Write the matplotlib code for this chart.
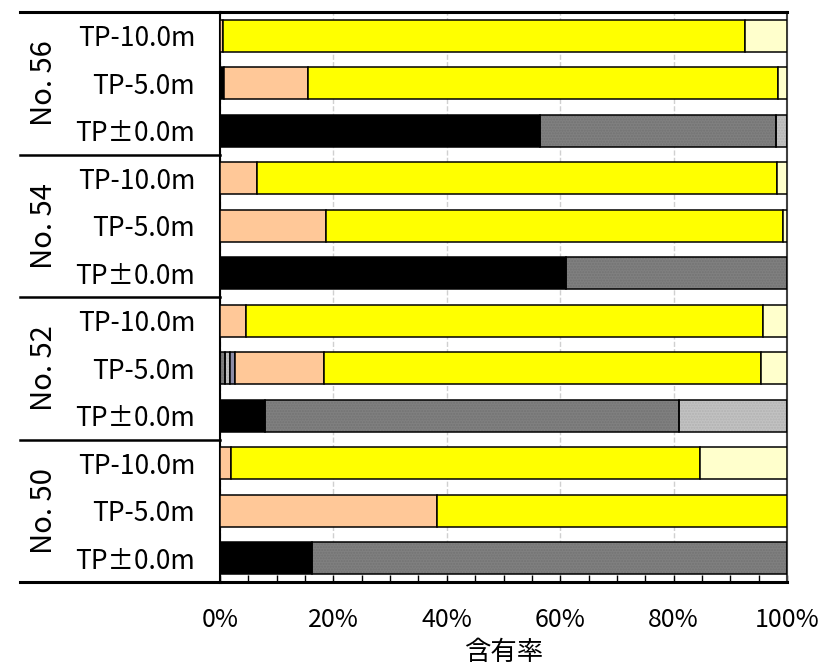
import matplotlib
matplotlib.use('Agg')
import matplotlib.pyplot as plt
import numpy as np

# rows top to bottom
groups = ['No. 56', 'No. 54', 'No. 52', 'No. 50']
depths = ['TP-10.0m', 'TP-5.0m', 'TP±0.0m']

# component shares (%) per row, left to right in the stack
black    = [0.0, 0.7, 56.4, 0.0, 0.0, 61.0, 0.0, 0.0, 7.9, 0.0, 0.0, 16.2]
gray     = [0.0, 0.0, 41.6, 0.0, 0.0, 39.0, 0.0, 0.8, 73.1, 0.0, 0.0, 83.8]
ltgray   = [0.0, 0.0, 2.0, 0.0, 0.0, 0.0, 0.0, 0.9, 19.0, 0.0, 0.0, 0.0]
purple   = [0.0, 0.0, 0.0, 0.0, 0.0, 0.0, 0.0, 0.9, 0.0, 0.0, 0.0, 0.0]
orange   = [0.5, 14.8, 0.0, 6.5, 18.7, 0.0, 4.6, 15.7, 0.0, 2.0, 38.3, 0.0]
yellow   = [92.1, 82.9, 0.0, 91.7, 80.6, 0.0, 91.2, 77.1, 0.0, 82.7, 61.7, 0.0]
ltyellow = [7.4, 1.6, 0.0, 1.8, 0.7, 0.0, 4.2, 4.6, 0.0, 15.3, 0.0, 0.0]

series = [
    (black,    '#000000', None),
    (gray,     '#808080', '#737373'),
    (ltgray,   '#c2c2c2', '#b2b2b2'),
    (purple,   '#8c8ca8', None),
    (orange,   '#ffc898', None),
    (yellow,   '#ffff00', None),
    (ltyellow, '#ffffcc', None),
]

fam = ['Noto Sans CJK JP', 'DejaVu Sans']

fig = plt.figure(figsize=(8.18, 6.64), dpi=100)
ax = fig.add_axes([220/818, 82/664, 567/818, 570/664])

nrow = len(black)
y = np.arange(nrow)
left = np.zeros(nrow)
bh = 0.68
for vals, col, dotcol in series:
    vals = np.array(vals)
    for i in range(nrow):
        if vals[i] <= 0:
            continue
        if dotcol:
            ax.barh(y[i], vals[i], left=left[i], height=bh, color=col,
                    edgecolor=dotcol, hatch='......', linewidth=0, zorder=2)
            ax.barh(y[i], vals[i], left=left[i], height=bh, fill=False,
                    edgecolor='black', linewidth=1.1, zorder=3)
        else:
            ax.barh(y[i], vals[i], left=left[i], height=bh, color=col,
                    edgecolor='black', linewidth=1.1, zorder=3)
    left += vals

ax.set_xlim(0, 100)
ax.set_ylim(nrow - 0.5, -0.5)
ax.set_xticks(np.arange(0, 101, 20))
ax.set_xticks(np.arange(0, 101, 5), minor=True)
ax.set_xticklabels(['%d%%' % v for v in range(0, 101, 20)], family=fam, fontsize=18)
ax.tick_params(axis='x', which='both', direction='in', length=5, width=1, pad=18, top=False)
ax.set_yticks(y)
ax.set_yticklabels(depths * len(groups), family=fam, fontsize=19)
ax.tick_params(axis='y', length=0, pad=18)
ax.grid(axis='x', which='major', color='#d0d0d0', linestyle='--', linewidth=1, zorder=0)
ax.set_axisbelow(True)
ax.set_xlabel('含有率', family=fam, fontsize=19, labelpad=4)

for s in ['top', 'bottom']:
    ax.spines[s].set_linewidth(2.2)
ax.spines['left'].set_linewidth(1.5)
ax.spines['right'].set_linewidth(1.5)
ax.spines['right'].set_color('#404040')

# left table lines
tr = ax.get_yaxis_transform()
x0 = -200/567
for yb in [-0.5, 2.5, 5.5, 8.5, 11.5]:
    lw = 2.2 if yb in (-0.5, 11.5) else 1.8
    ax.plot([x0, 0], [yb, yb], color='black', linewidth=lw, transform=tr, clip_on=False)

for g, name in enumerate(groups):
    ax.text(-176/567, 3*g + 1, name, transform=tr, rotation=90, ha='center', va='center',
            family=fam, fontsize=21)

plt.savefig('out.png', dpi=100)
